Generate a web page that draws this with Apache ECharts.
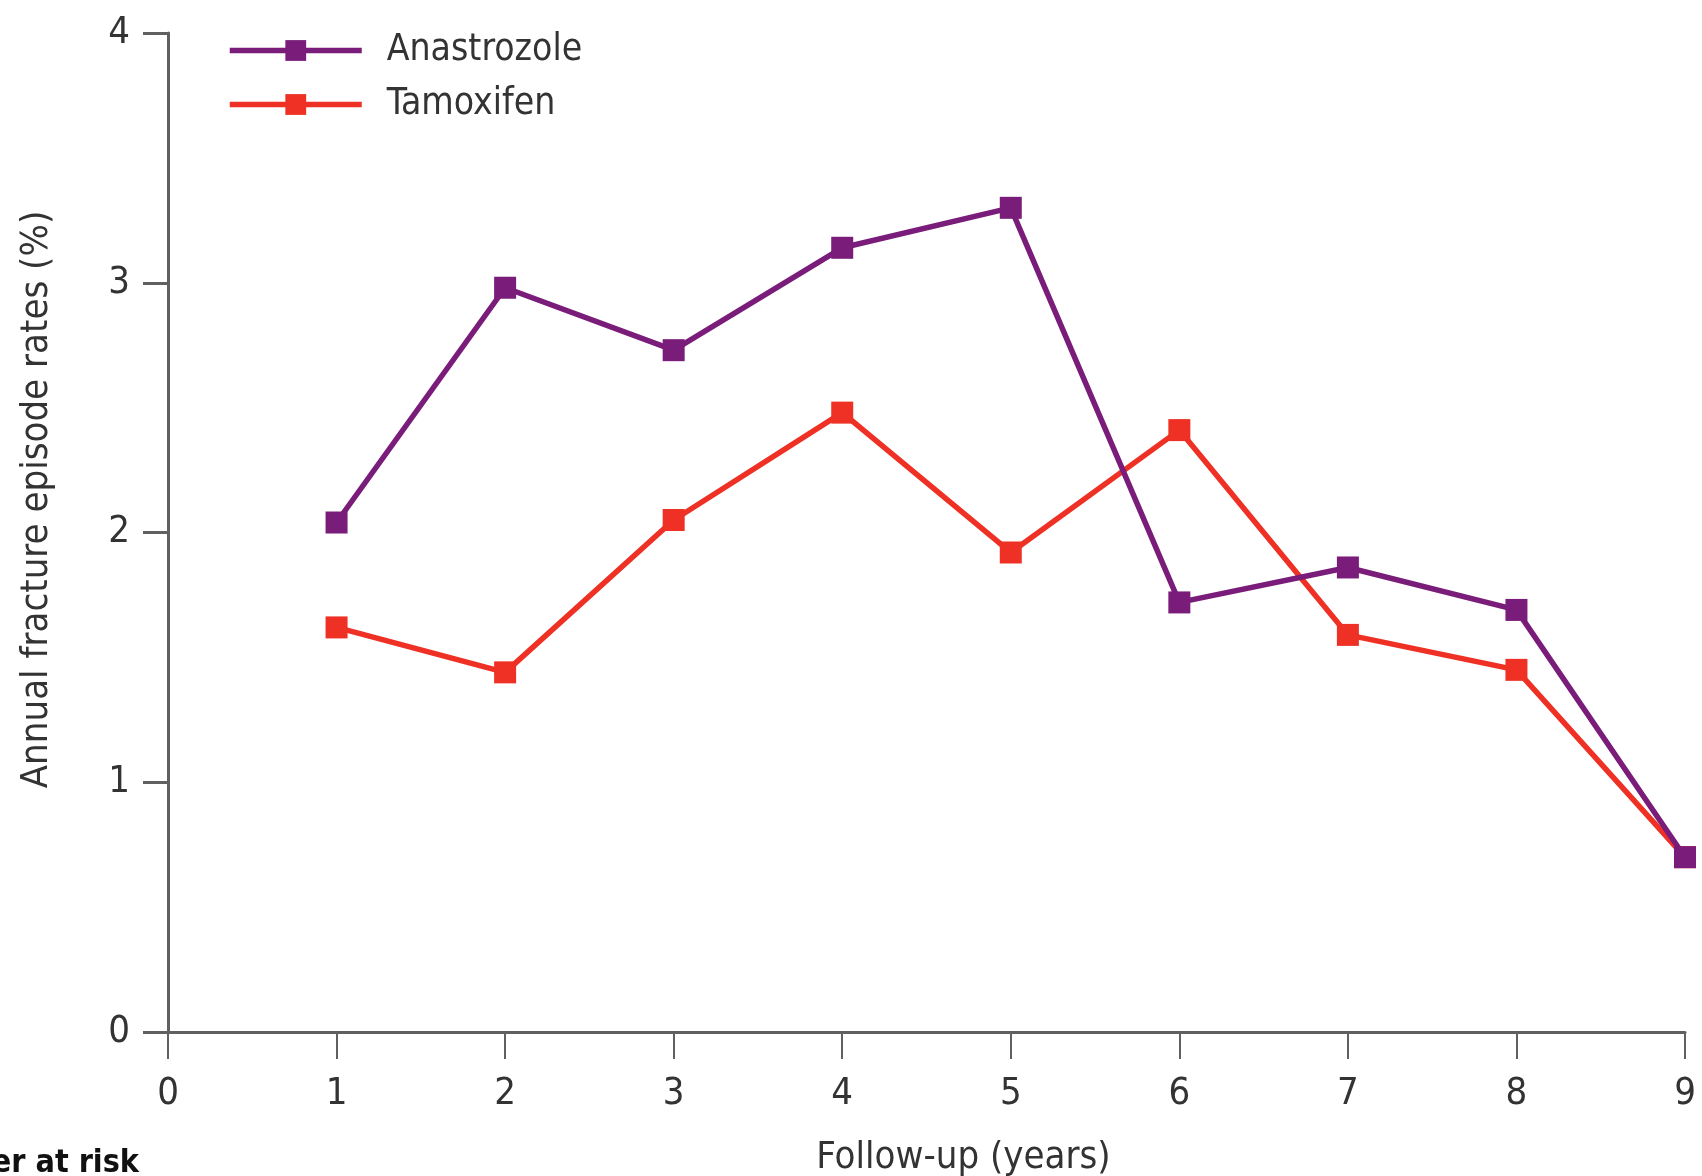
<!DOCTYPE html>
<html>
<head>
<meta charset="utf-8">
<script src="https://cdn.jsdelivr.net/npm/echarts@6/dist/echarts.min.js"></script>
<style>
html,body{margin:0;padding:0;background:#fff;}
#chart{width:1702px;height:1176px;}
</style>
</head>
<body>
<div id="chart"></div>
<script>
var years = [1, 2, 3, 4, 5, 6, 7, 8, 9];
var anastrozole = [2.04, 2.98, 2.73, 3.14, 3.30, 1.72, 1.86, 1.69, 0.70];
var tamoxifen = [1.62, 1.44, 2.05, 2.48, 1.92, 2.41, 1.59, 1.45, 0.70];
var xTicks = [0, 1, 2, 3, 4, 5, 6, 7, 8, 9];
var yTicks = [0, 1, 2, 3, 4];

var FONT = '"Liberation Sans Narrow", "DejaVu Sans Condensed", "Liberation Sans", sans-serif';
var PURPLE = '#7a1c79';
var RED = '#ee3124';
var AXIS = '#606060';
var TEXT = '#333333';

function pairs(xs, ys) { return xs.map(function (x, i) { return [x, ys[i]]; }); }

var chart = echarts.init(document.getElementById('chart'), null, {renderer: 'canvas'});
chart.setOption({
  animation: false,
  backgroundColor: '#ffffff',
  grid: {left: 168, right: 17, top: 33, bottom: 144, containLabel: false, outerBoundsMode: 'none'},
  legend: {
    orient: 'vertical',
    left: 222,
    top: 27,
    itemWidth: 132,
    itemHeight: 26,
    itemGap: 17,
    lineStyle: {width: 5.5},
    textStyle: {fontFamily: FONT, fontSize: 37, color: TEXT, padding: [0, 0, 0, 20]},
    data: ['Anastrozole', 'Tamoxifen']
  },
  xAxis: {
    type: 'value',
    min: 0, max: 9, interval: 1,
    name: 'Follow-up (years)',
    nameLocation: 'middle',
    nameGap: 107,
    nameTextStyle: {fontFamily: FONT, fontSize: 38, color: TEXT, padding: [0, 0, 0, 74]},
    axisLine: {show: true, lineStyle: {color: AXIS, width: 3}},
    axisTick: {show: true, length: 27, lineStyle: {color: AXIS, width: 2}},
    axisLabel: {
      fontFamily: FONT, fontSize: 38, color: TEXT, margin: 43,
      formatter: function (v) { return xTicks.indexOf(v) >= 0 ? String(v) : ''; }
    },
    splitLine: {show: false}
  },
  yAxis: {
    type: 'value',
    min: 0, max: 4, interval: 1,
    name: 'Annual fracture episode rates (%)',
    nameLocation: 'middle',
    nameGap: 112,
    nameRotate: 90,
    nameTextStyle: {fontFamily: FONT, fontSize: 38, color: TEXT, padding: [0, 0, 0, 66]},
    axisLine: {show: true, lineStyle: {color: AXIS, width: 3}},
    axisTick: {show: true, length: 25, lineStyle: {color: AXIS, width: 3}},
    axisLabel: {
      fontFamily: FONT, fontSize: 38, color: TEXT, margin: 38,
      formatter: function (v) { return yTicks.indexOf(v) >= 0 ? String(v) : ''; }
    },
    splitLine: {show: false}
  },
  graphic: [{
    type: 'text',
    right: 1702 - 139,
    top: 1148,
    style: {text: 'Number at risk', font: 'bold 32px ' + FONT, fill: '#111111', textAlign: 'right'}
  }],
  series: [
    {
      name: 'Anastrozole',
      type: 'line',
      data: pairs(years, anastrozole),
      symbol: 'rect',
      symbolSize: 22,
      lineStyle: {color: PURPLE, width: 5.5},
      itemStyle: {color: PURPLE},
      z: 3
    },
    {
      name: 'Tamoxifen',
      type: 'line',
      data: pairs(years, tamoxifen),
      symbol: 'rect',
      symbolSize: 22,
      lineStyle: {color: RED, width: 5.5},
      itemStyle: {color: RED},
      z: 2
    }
  ]
});
</script>
</body>
</html>
